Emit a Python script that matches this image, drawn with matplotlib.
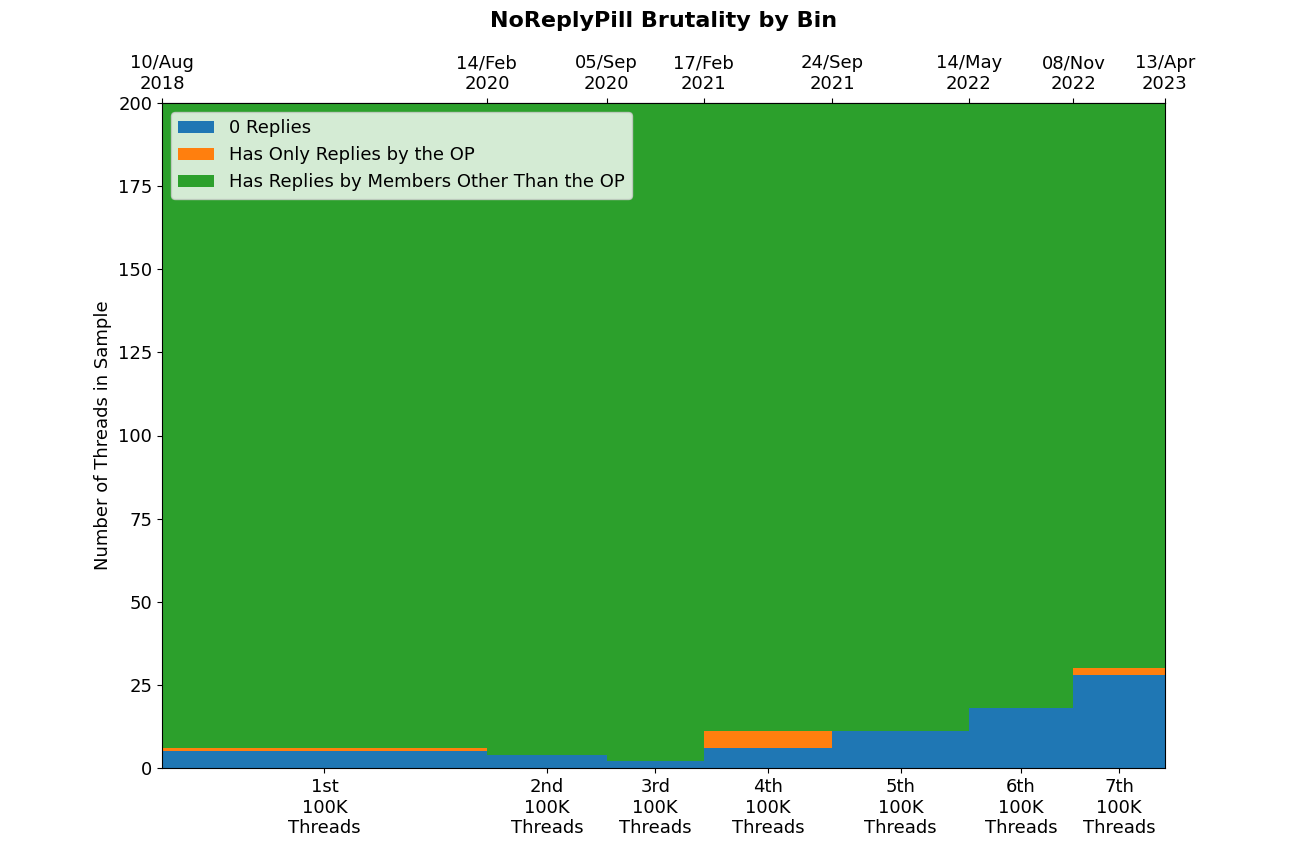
import matplotlib
matplotlib.use("Agg")
import matplotlib.pyplot as plt
import matplotlib.dates as mdates
import numpy as np
from datetime import date

edges = ["2018-08-10","2020-02-14","2020-09-05","2021-02-17","2021-09-24","2022-05-14","2022-11-08","2023-04-13"]
edge_labels = ["10/Aug\n2018","14/Feb\n2020","05/Sep\n2020","17/Feb\n2021","24/Sep\n2021","14/May\n2022","08/Nov\n2022","13/Apr\n2023"]
bin_labels = ["1st\n100K\nThreads","2nd\n100K\nThreads","3rd\n100K\nThreads","4th\n100K\nThreads","5th\n100K\nThreads","6th\n100K\nThreads","7th\n100K\nThreads"]
zero_replies = [5, 4, 2, 6, 11, 18, 28]
op_only = [1, 0, 0, 5, 0, 0, 2]
total = [200]*7

e = np.array([mdates.date2num(date.fromisoformat(d)) for d in edges])
left = e[:-1]; width = np.diff(e); mid = left + width/2
z = np.array(zero_replies); o = np.array(op_only); others = np.array(total) - z - o

fig = plt.figure(figsize=(12.96, 8.64), dpi=100)
ax = fig.add_axes([162/1296, 1-768/864, (1165-162)/1296, (768-103)/864])
ax.bar(left, z, width=width, align='edge', color='#1f77b4', label='0 Replies')
ax.bar(left, o, width=width, bottom=z, align='edge', color='#ff7f0e', label='Has Only Replies by the OP')
ax.bar(left, others, width=width, bottom=z+o, align='edge', color='#2ca02c', label='Has Replies by Members Other Than the OP')
ax.set_xlim(e[0], e[-1]); ax.set_ylim(0, 200)
ax.set_xticks(mid); ax.set_xticklabels(bin_labels, fontsize=13)
ax.tick_params(axis='y', labelsize=13)
ax.set_ylabel("Number of Threads in Sample", fontsize=13)
top = ax.secondary_xaxis('top')
top.set_xticks(e); top.set_xticklabels(edge_labels, fontsize=13)
ax.set_title("NoReplyPill Brutality by Bin", fontsize=16, fontweight='bold', pad=55)
ax.legend(loc='upper left', fontsize=13)
fig.savefig("out.png", dpi=100)
